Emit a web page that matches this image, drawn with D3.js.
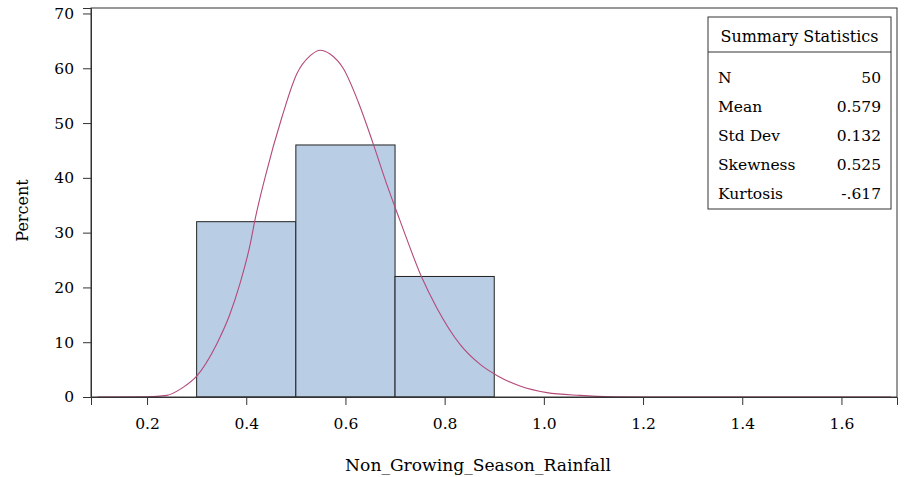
<!DOCTYPE html>
<html>
<head>
<meta charset="utf-8">
<script src="https://cdn.jsdelivr.net/npm/d3@7"></script>
<style>
  body { margin: 0; background: #fff; }
</style>
</head>
<body>
<svg></svg>
<script>
const SVG_WIDTH = 909;
const SVG_HEIGHT = 477;
const FONT = '"DejaVu Serif", "Liberation Serif", serif';

// Histogram bins (left edge, right edge) and percent in each.
const binStarts = [0.3, 0.5, 0.7];
const binEnds = [0.5, 0.7, 0.9];
const binPercents = [32, 46, 22];

// Density curve.
const curveX = [0.10, 0.20, 0.24, 0.27, 0.30, 0.34, 0.367, 0.387, 0.408, 0.418, 0.438,
  0.472, 0.502, 0.529, 0.549, 0.569, 0.596, 0.626, 0.656, 0.683, 0.710, 0.754,
  0.784, 0.831, 0.871, 0.908, 0.952, 1.006, 1.073, 1.14, 1.2, 1.4, 1.7];
const curveY = [0, 0.05, 0.3, 1.6, 3.8, 9.6, 15.1, 20.6, 27.9, 32.5, 40.1,
  51.1, 59.0, 62.3, 63.3, 62.6, 59.9, 53.8, 46.2, 38.9, 32.2, 21.8,
  16.3, 9.6, 6.0, 3.8, 2.0, 0.8, 0.3, 0.05, 0, 0, 0];

const xTicks = [0.2, 0.4, 0.6, 0.8, 1.0, 1.2, 1.4, 1.6];
const yTicks = [0, 10, 20, 30, 40, 50, 60, 70];

// Summary statistics inset.
const statNames = ['N', 'Mean', 'Std Dev', 'Skewness', 'Kurtosis'];
const statValues = ['50', '0.579', '0.132', '0.525', '-.617'];

const margin = {top: 8, right: 12, bottom: 80, left: 91};
const plotW = SVG_WIDTH - margin.left - margin.right;
const plotH = SVG_HEIGHT - margin.top - margin.bottom;

// Shrink or grow a text's font size so it spans the given width.
function fitWidth(sel, width) {
  const size = parseFloat(sel.attr('font-size'));
  const len = sel.node().getComputedTextLength();
  sel.attr('font-size', (size * width / len).toFixed(2));
}

const svg = d3.select('svg')
  .attr('width', SVG_WIDTH)
  .attr('height', SVG_HEIGHT)
  .attr('font-family', FONT);

const g = svg.append('g')
  .attr('transform', `translate(${margin.left},${margin.top})`);

const x = d3.scaleLinear().domain([0.087, 1.712]).range([0, plotW]);
const y = d3.scaleLinear().domain([0, 71]).range([plotH, 0]);

// Bars.
g.selectAll('rect.bar')
  .data(binPercents)
  .join('rect')
  .attr('class', 'bar')
  .attr('x', (d, i) => x(binStarts[i]))
  .attr('y', d => y(d))
  .attr('width', (d, i) => x(binEnds[i]) - x(binStarts[i]))
  .attr('height', d => y(0) - y(d))
  .attr('fill', '#b9cee5')
  .attr('stroke', '#222')
  .attr('stroke-width', 1);

// Density curve.
const line = d3.line()
  .x(d => x(d[0]))
  .y(d => y(d[1]))
  .curve(d3.curveMonotoneX);

g.append('path')
  .datum(d3.zip(curveX, curveY))
  .attr('d', line)
  .attr('fill', 'none')
  .attr('stroke', '#b4497a')
  .attr('stroke-width', 1.1);

// Frame.
g.append('rect')
  .attr('x', 0)
  .attr('y', 0)
  .attr('width', plotW)
  .attr('height', plotH)
  .attr('fill', 'none')
  .attr('stroke', '#333')
  .attr('stroke-width', 1);

// Axes.
const xAxis = g.append('g')
  .attr('transform', `translate(0,${plotH})`)
  .call(d3.axisBottom(x).tickValues(xTicks).tickFormat(d3.format('.1f')).tickSizeOuter(0).tickSize(8).tickPadding(13));

const yAxis = g.append('g')
  .call(d3.axisLeft(y).tickValues(yTicks).tickFormat(d3.format('d')).tickSizeOuter(0).tickSize(8).tickPadding(9));

[xAxis, yAxis].forEach(a => {
  a.attr('font-family', FONT).attr('font-size', 15.5);
  a.select('.domain').attr('stroke', '#333');
  a.selectAll('.tick line').attr('stroke', '#333');
  a.selectAll('.tick text').attr('fill', '#000');
});

// Axis titles.
const xTitle = svg.append('text')
  .attr('x', 478)
  .attr('y', 471)
  .attr('text-anchor', 'middle')
  .attr('font-size', 17)
  .text('Non_Growing_Season_Rainfall');
fitWidth(xTitle, 266);

svg.append('text')
  .attr('transform', `translate(28,${margin.top + plotH / 2 + 8}) rotate(-90)`)
  .attr('text-anchor', 'middle')
  .attr('font-size', 16)
  .text('Percent');

// Summary statistics box.
const box = {left: 708, top: 17, right: 891, bottom: 209, sep: 52};
const inset = svg.append('g').attr('font-size', 15.5);
inset.append('rect')
  .attr('x', box.left)
  .attr('y', box.top)
  .attr('width', box.right - box.left)
  .attr('height', box.bottom - box.top)
  .attr('fill', '#fff')
  .attr('stroke', '#333');
inset.append('line')
  .attr('x1', box.left)
  .attr('x2', box.right)
  .attr('y1', box.sep)
  .attr('y2', box.sep)
  .attr('stroke', '#333');
const header = inset.append('text')
  .attr('x', (box.left + box.right) / 2)
  .attr('y', 42)
  .attr('text-anchor', 'middle')
  .attr('font-size', 15.5)
  .text('Summary Statistics');
fitWidth(header, 158);

statNames.forEach((name, i) => {
  const rowY = 83 + i * 29;
  inset.append('text')
    .attr('x', box.left + 10)
    .attr('y', rowY)
    .text(name);
  inset.append('text')
    .attr('x', box.right - 10)
    .attr('y', rowY)
    .attr('text-anchor', 'end')
    .text(statValues[i]);
});
</script>
</body>
</html>
